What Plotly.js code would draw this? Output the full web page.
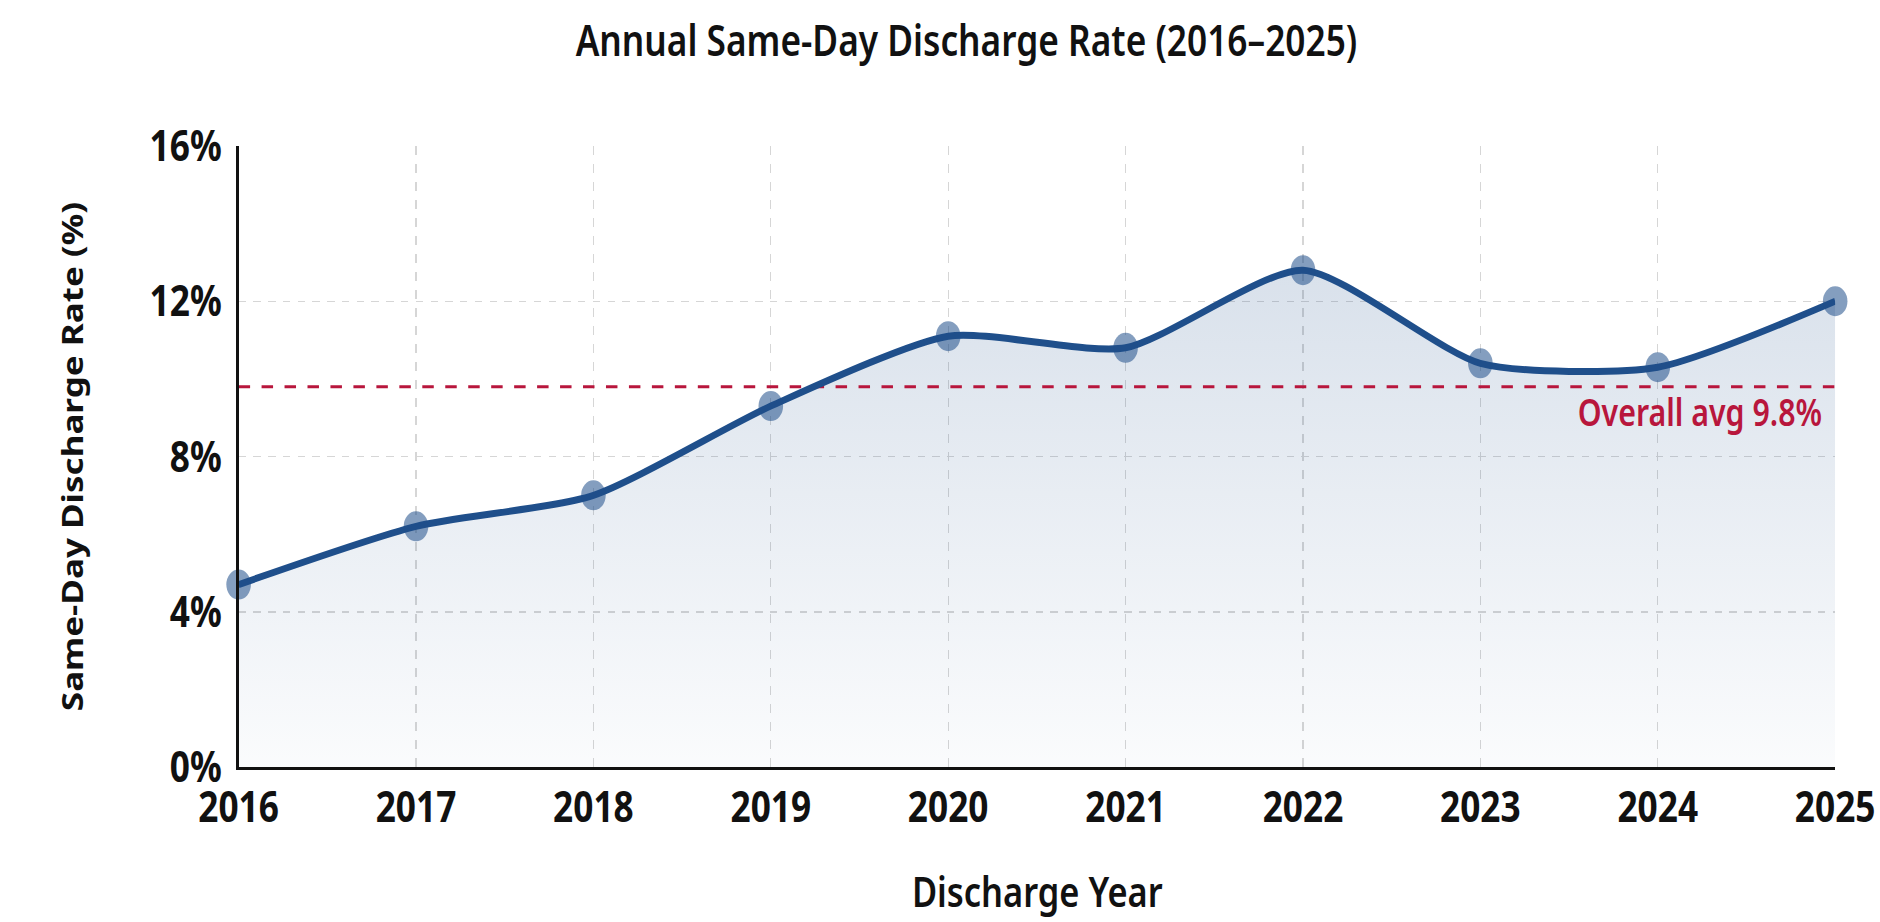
<!DOCTYPE html>
<html>
<head>
<meta charset="utf-8">
<script src="https://cdn.plot.ly/plotly-3.0.1.min.js"></script>
<style>
  html, body { margin: 0; padding: 0; background: #ffffff; overflow: hidden; }
  #wrap { width: 1880px; height: 922px; overflow: hidden; position: relative; }
  #chart { width: 2293px; height: 922px; transform: scaleX(0.82); transform-origin: 0 0; }
</style>
</head>
<body>
<div id="wrap"><div id="chart"></div></div>
<script>
// ---- data ----
const years = [2016, 2017, 2018, 2019, 2020, 2021, 2022, 2023, 2024, 2025];
const rates = [4.7, 6.2, 7.0, 9.3, 11.1, 10.8, 12.8, 10.4, 10.3, 12.0];
const overallAvg = 9.8;
const yTickVals = [0, 4, 8, 12, 16];
const yTickText = ['0%', '4%', '8%', '12%', '16%'];
const xTickText = ['2016', '2017', '2018', '2019', '2020', '2021', '2022', '2023', '2024', '2025'];
const titleText = 'Annual Same-Day Discharge Rate (2016\u20132025)';
const xTitleText = 'Discharge Year';
const yTitleText = 'Same-Day Discharge Rate (%)';
const avgLabel = 'Overall avg 9.8%';

// ---- styles ----
const BLUE = '#1f4f8b';
const RED = '#b8163c';
const FONT = 'Noto Sans, Open Sans, sans-serif';
const SMOOTH = 0.65;

const fillTrace = {
  x: years, y: rates, type: 'scatter', mode: 'lines',
  line: { shape: 'spline', smoothing: SMOOTH, width: 0, color: BLUE },
  fill: 'tozeroy',
  fillgradient: {
    type: 'vertical',
    colorscale: [[0, 'rgba(31,79,139,0.02)'], [1, 'rgba(31,79,139,0.17)']]
  },
  hoverinfo: 'skip', showlegend: false
};

const avgTrace = {
  x: [years[0], years[years.length - 1]], y: [overallAvg, overallAvg],
  type: 'scatter', mode: 'lines',
  line: { color: RED, width: 3, dash: '14px,14px' },
  hoverinfo: 'skip', showlegend: false
};

const mainTrace = {
  x: years, y: rates, type: 'scatter', mode: 'lines+markers',
  line: { shape: 'spline', smoothing: SMOOTH, width: 7, color: BLUE },
  marker: { size: 30, color: 'rgba(31,79,139,0.55)', line: { width: 0 } },
  cliponaxis: false, showlegend: false
};

const layout = {
  width: 2293, height: 922,
  paper_bgcolor: '#ffffff', plot_bgcolor: '#ffffff',
  margin: { l: 291, r: 55, t: 146, b: 155 },
  font: { family: FONT, color: '#111111' },
  title: {
    text: titleText,
    font: { family: FONT, size: 43, weight: 600, color: '#111111' },
    x: 0.514, xanchor: 'center', xref: 'container',
    y: 0.9555, yanchor: 'middle', yref: 'container'
  },
  xaxis: {
    range: [2016, 2025], tickvals: years, ticktext: xTickText,
    showgrid: true, gridcolor: '#d6d6d6', gridwidth: 1.5, griddash: 'dash',
    showline: true, linecolor: '#111111', linewidth: 2.5,
    zeroline: false, ticks: '',
    ticklabelstandoff: 1,
    tickfont: { family: FONT, size: 43, weight: 700, color: '#111111' }
  },
  yaxis: {
    range: [0, 16], tickvals: yTickVals, ticktext: yTickText,
    showgrid: true, gridcolor: '#d6d6d6', gridwidth: 1.5, griddash: 'dash',
    showline: true, linecolor: '#111111', linewidth: 3,
    zeroline: false, ticks: '',
    ticklabelstandoff: 9,
    tickfont: { family: FONT, size: 43, weight: 700, color: '#111111' },
    title: { text: yTitleText, standoff: 70,
      font: { family: FONT, size: 35, weight: 700, color: '#111111' } }
  },
  annotations: [{
    text: avgLabel, xref: 'paper', x: 1, xanchor: 'right', xshift: -14,
    yref: 'y', y: overallAvg, yanchor: 'middle', yshift: -25,
    showarrow: false,
    font: { family: FONT, size: 37, weight: 600, color: RED }
  }, {
    text: xTitleText, xref: 'paper', x: 0.5, xanchor: 'center',
    yref: 'paper', y: 0, yanchor: 'top', yshift: -93,
    showarrow: false,
    font: { family: FONT, size: 42, weight: 600, color: '#111111' }
  }]
};

Plotly.newPlot('chart', [fillTrace, avgTrace, mainTrace], layout,
  { displayModeBar: false, staticPlot: true });
</script>
</body>
</html>
